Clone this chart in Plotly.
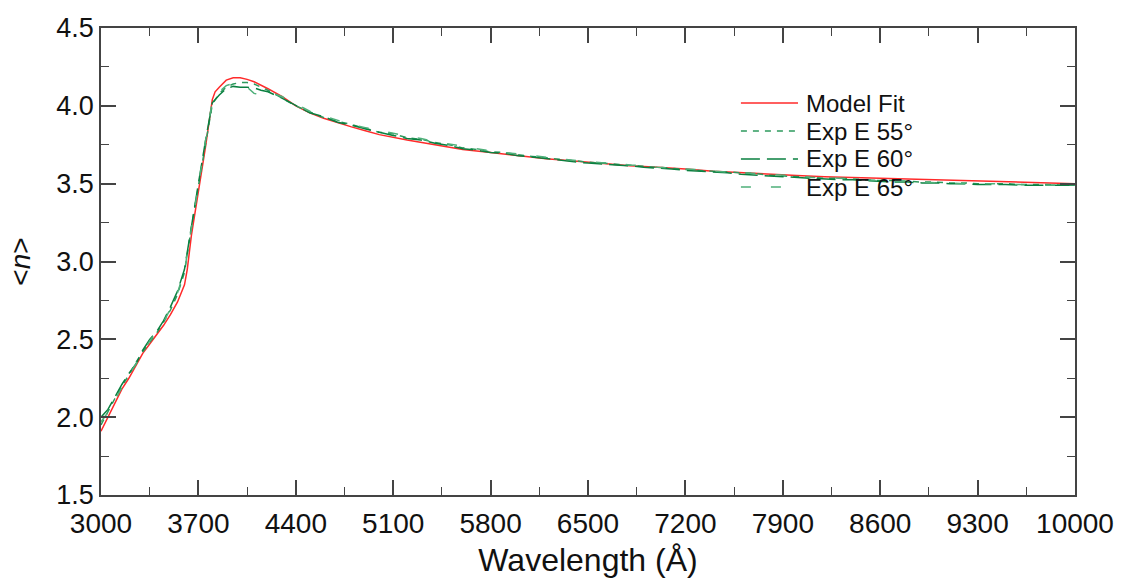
import plotly.graph_objects as go

# ---- data ----
wl_model = [3000, 3050, 3100, 3150, 3200, 3250, 3300, 3350, 3400, 3450, 3500, 3550,
            3600, 3620, 3650, 3700, 3750, 3800, 3820, 3850, 3900, 3950, 4000, 4050,
            4100, 4200, 4300, 4400, 4500, 4600, 4700, 4800, 4900, 5000, 5200, 5400,
            5600, 5800, 6000, 6200, 6400, 6600, 6800, 7000, 7200, 7400, 7600, 7800,
            8000, 8200, 8400, 8600, 8800, 9000, 9200, 9400, 9600, 9800, 10000]
n_model = [1.91, 2.00, 2.10, 2.18, 2.25, 2.33, 2.41, 2.47, 2.53, 2.59, 2.66, 2.74,
           2.85, 2.95, 3.17, 3.44, 3.73, 4.04, 4.09, 4.12, 4.165, 4.18, 4.18, 4.17,
           4.155, 4.11, 4.06, 4.00, 3.955, 3.92, 3.89, 3.865, 3.84, 3.815, 3.78, 3.75,
           3.72, 3.70, 3.68, 3.66, 3.645, 3.63, 3.615, 3.605, 3.595, 3.58, 3.57, 3.56,
           3.553, 3.545, 3.54, 3.533, 3.527, 3.522, 3.517, 3.512, 3.508, 3.504, 3.50]

wl_exp = [3000, 3050, 3100, 3150, 3200, 3250, 3300, 3350, 3400, 3450, 3500, 3550,
          3600, 3650, 3700, 3750, 3800, 3850, 3900, 3950, 4000, 4050, 4100, 4150,
          4200, 4300, 4400, 4500, 4600, 4700, 4800, 4900, 5000, 5100, 5200, 5300,
          5400, 5500, 5600, 5700, 5800, 5900, 6000, 6100, 6200, 6300, 6400, 6500,
          6600, 6700, 6800, 6900, 7000, 7100, 7200, 7300, 7400, 7500, 7600, 7700,
          7800, 7900, 8000, 8100, 8200, 8300, 8400, 8500, 8600, 8700, 8800, 8900,
          9000, 9100, 9200, 9300, 9400, 9500, 9600, 9700, 9800, 9900, 10000]

n_exp55 = [1.95, 2.04, 2.12, 2.20, 2.27, 2.35, 2.42, 2.48, 2.54, 2.61, 2.69, 2.79,
           2.93, 3.22, 3.48, 3.76, 4.01, 4.08, 4.12, 4.14, 4.15, 4.15, 4.14, 4.12,
           4.10, 4.05, 4.00, 3.96, 3.925, 3.90, 3.88, 3.855, 3.83, 3.82, 3.795, 3.785,
           3.765, 3.75, 3.73, 3.72, 3.705, 3.70, 3.685, 3.675, 3.665, 3.655, 3.645, 3.638,
           3.632, 3.625, 3.618, 3.61, 3.605, 3.60, 3.59, 3.585, 3.58, 3.575, 3.57, 3.565,
           3.555, 3.55, 3.545, 3.54, 3.535, 3.535, 3.53, 3.525, 3.52, 3.52, 3.515, 3.51,
           3.51, 3.505, 3.505, 3.50, 3.50, 3.50, 3.495, 3.495, 3.495, 3.49, 3.49]

n_exp60 = [2.00, 2.05, 2.13, 2.21, 2.28, 2.34, 2.43, 2.50, 2.55, 2.62, 2.71, 2.81,
           2.95, 3.24, 3.50, 3.77, 4.02, 4.07, 4.11, 4.125, 4.12, 4.12, 4.115, 4.10,
           4.09, 4.05, 4.00, 3.955, 3.93, 3.895, 3.875, 3.85, 3.83, 3.81, 3.79, 3.78,
           3.76, 3.745, 3.725, 3.715, 3.70, 3.695, 3.68, 3.672, 3.66, 3.652, 3.64, 3.632,
           3.628, 3.62, 3.615, 3.605, 3.60, 3.595, 3.585, 3.58, 3.575, 3.57, 3.56, 3.555,
           3.55, 3.545, 3.54, 3.535, 3.53, 3.525, 3.525, 3.52, 3.515, 3.51, 3.51, 3.505,
           3.505, 3.50, 3.50, 3.495, 3.495, 3.495, 3.49, 3.49, 3.49, 3.49, 3.49]

n_exp65 = [1.97, 2.03, 2.11, 2.19, 2.27, 2.34, 2.41, 2.49, 2.55, 2.61, 2.70, 2.80,
           2.94, 3.23, 3.49, 3.77, 4.03, 4.09, 4.13, 4.145, 4.14, 4.12, 4.08, 4.07,
           4.09, 4.06, 4.01, 3.965, 3.935, 3.905, 3.88, 3.86, 3.84, 3.825, 3.805, 3.79,
           3.77, 3.755, 3.74, 3.725, 3.71, 3.70, 3.69, 3.678, 3.668, 3.658, 3.646, 3.64,
           3.635, 3.63, 3.62, 3.615, 3.605, 3.60, 3.595, 3.59, 3.58, 3.575, 3.57, 3.565,
           3.56, 3.555, 3.55, 3.54, 3.54, 3.535, 3.53, 3.525, 3.52, 3.515, 3.515, 3.51,
           3.505, 3.505, 3.50, 3.50, 3.50, 3.495, 3.495, 3.49, 3.49, 3.49, 3.485]

series_names = ["Model Fit", "Exp E 55°", "Exp E 60°", "Exp E 65°"]
x_tick_vals = [3000, 3700, 4400, 5100, 5800, 6500, 7200, 7900, 8600, 9300, 10000]
y_tick_vals = [1.5, 2.0, 2.5, 3.0, 3.5, 4.0, 4.5]

FONT = "Liberation Sans, Arial, sans-serif"
AXIS_COLOR = "#444444"
colors = ["#ff2a2a", "#2e9a5e", "#0a8040", "#4fb07a"]
dashes = ["solid", "6px,6px", "19px,7px", "10px,20px"]

fig = go.Figure()
series_y = [n_model, n_exp55, n_exp60, n_exp65]
series_x = [wl_model, wl_exp, wl_exp, wl_exp]
for name, xs, ys, c, d in zip(series_names, series_x, series_y, colors, dashes):
    fig.add_trace(go.Scatter(x=xs, y=ys, mode="lines", name=name, showlegend=False,
                             line=dict(color=c, width=1.5, dash=d)))

# manual legend (tight row spacing as in the reference)
leg_x0, leg_x1, leg_tx = 0.657, 0.7156, 0.7218
leg_rows = [0.8394, 0.7794, 0.7195, 0.6595]
for name, c, d, yy in zip(series_names, colors, dashes, leg_rows):
    fig.add_shape(type="line", xref="paper", yref="paper", x0=leg_x0, x1=leg_x1,
                  y0=yy, y1=yy, line=dict(color=c, width=1.5, dash=d))
    fig.add_annotation(xref="paper", yref="paper", x=leg_tx, y=yy, text=name,
                       showarrow=False, xanchor="left", yanchor="middle",
                       font=dict(family=FONT, size=24, color="#111111"))

fig.update_layout(
    width=1131, height=578,
    margin=dict(l=101, r=56, t=28, b=83, autoexpand=False),
    paper_bgcolor="white", plot_bgcolor="white",
    font=dict(family=FONT, color="#111111", size=24),
    showlegend=False,
)

fig.update_xaxes(
    range=[3000, 10000], tickvals=x_tick_vals,
    ticktext=[str(v) for v in x_tick_vals],
    ticks="inside", ticklen=15, tickwidth=1.5, tickcolor=AXIS_COLOR,
    minor=dict(dtick=350, tick0=3000, ticks="inside", ticklen=8, tickwidth=1.2,
               tickcolor=AXIS_COLOR, showgrid=False),
    showline=True, linecolor=AXIS_COLOR, linewidth=1.5, mirror="ticks",
    showgrid=False, zeroline=False, ticklabelstandoff=3, automargin=False,
    tickfont=dict(family=FONT, size=28, color="#111111"),
    title=dict(text="Wavelength (Å)", font=dict(family=FONT, size=32, color="#111111"),
               standoff=14),
)
fig.update_yaxes(
    range=[1.5, 4.5], tickvals=y_tick_vals,
    ticktext=[f"{v:.1f}" for v in y_tick_vals],
    ticks="inside", ticklen=15, tickwidth=1.5, tickcolor=AXIS_COLOR,
    minor=dict(dtick=0.25, tick0=1.5, ticks="inside", ticklen=8, tickwidth=1.2,
               tickcolor=AXIS_COLOR, showgrid=False),
    showline=True, linecolor=AXIS_COLOR, linewidth=1.5, mirror="ticks",
    showgrid=False, zeroline=False, automargin=False,
    tickfont=dict(family=FONT, size=27, color="#111111"),
    title=dict(text="&lt;<i>n</i>&gt;", font=dict(family=FONT, size=28, color="#111111"),
               standoff=18),
)

fig.write_html("out.html")
